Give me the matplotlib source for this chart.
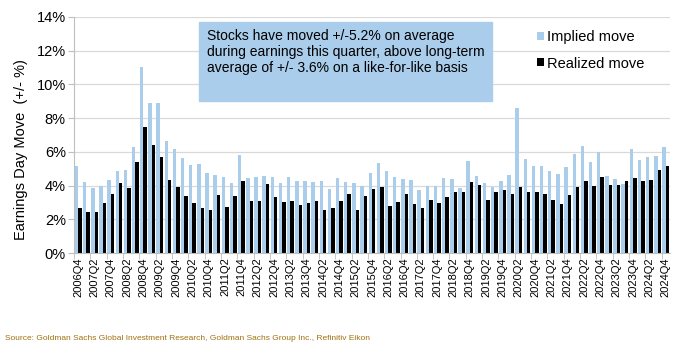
import numpy as np
import matplotlib
matplotlib.use("Agg")
from matplotlib import pyplot as plt
from matplotlib.ticker import FuncFormatter

plt.rcParams['font.family'] = ['Liberation Sans', 'DejaVu Sans']

# quarters 2006Q4 .. 2024Q4
quarters = ['2006Q4'] + ['%dQ%d' % (y, q) for y in range(2007, 2025) for q in range(1, 5)]

implied = [5.17, 4.22, 3.83, 4.00, 4.32, 4.87, 4.93, 6.31, 11.05, 8.88,
           8.88, 6.65, 6.15, 5.64, 5.20, 5.27, 4.75, 4.63, 4.50, 4.16,
           5.82, 4.44, 4.50, 4.58, 4.50, 4.14, 4.50, 4.28, 4.26, 4.22,
           4.28, 3.81, 4.44, 4.22, 4.14, 4.00, 4.75, 5.36, 4.87, 4.50,
           4.42, 4.34, 3.75, 4.00, 4.00, 4.48, 4.42, 3.87, 5.48, 4.54,
           4.14, 3.92, 4.26, 4.65, 8.58, 5.58, 5.15, 5.15, 4.87, 4.71,
           5.11, 5.88, 6.37, 5.42, 6.02, 4.54, 4.42, 4.08, 6.15, 5.52,
           5.70, 5.76, 6.31]

realized = [2.66, 2.43, 2.43, 2.98, 3.49, 4.16, 3.83, 5.38, 7.50, 6.43,
            5.70, 4.32, 3.89, 3.37, 2.98, 2.70, 2.54, 3.43, 2.76, 3.37,
            4.28, 3.10, 3.10, 4.08, 3.33, 3.04, 3.10, 2.86, 2.96, 3.10,
            2.54, 2.70, 3.10, 3.49, 2.54, 3.37, 3.77, 3.89, 2.82, 3.04,
            3.49, 2.92, 2.70, 3.16, 2.98, 3.33, 3.61, 3.61, 4.22, 4.02,
            3.16, 3.65, 3.71, 3.49, 3.94, 3.61, 3.65, 3.49, 3.16, 2.92,
            3.43, 3.94, 4.26, 4.00, 4.50, 4.04, 4.04, 4.26, 4.44, 4.28,
            4.36, 4.93, 5.17]

note = ('Stocks have moved +/-5.2% on average\n'
        'during earnings this quarter, above long-term\n'
        'average of +/- 3.6% on a like-for-like basis')
source = ('Source: Goldman Sachs Global Investment Research, '
          'Goldman Sachs Group Inc., Refinitiv Eikon')

blue = '#A9CDEB'
grey = '#BFBFBF'

fig = plt.figure(figsize=(6.8, 3.6), dpi=100)
ax = fig.add_axes([0.109, 0.297, 0.876, 0.656])

x = np.arange(len(quarters))
w = 0.42
ax.bar(x - w/2, implied, width=w, color=blue, label='Implied move', zorder=2)
ax.bar(x + w/2, realized, width=w, color='black', label='Realized move', zorder=2)

ax.set_xlim(-0.5, len(quarters) - 0.5)
ax.set_ylim(0, 14)
ax.set_yticks(np.arange(0, 15, 2))
ax.yaxis.set_major_formatter(FuncFormatter(lambda v, p: '%d%%' % v))
ax.grid(axis='y', color='#D9D9D9', linewidth=0.9, zorder=0)

ax.set_xticks(x[::2])
ax.set_xticklabels(quarters[::2], rotation=90, fontsize=8)
ax.set_xticks(np.arange(-0.5, len(quarters), 2), minor=True)
ax.tick_params(axis='x', which='major', length=0, pad=3)
ax.tick_params(axis='x', which='minor', length=4, color=grey)
ax.tick_params(axis='y', labelsize=10.5, length=4, color=grey, pad=2)

for s in ['top', 'right']:
    ax.spines[s].set_visible(False)
for s in ['left', 'bottom']:
    ax.spines[s].set_color(grey)

ax.set_ylabel('Earnings Day Move  (+/- %)', fontsize=10.5)
ax.yaxis.set_label_coords(-0.077, 0.44)

# annotation box
fig.patches.append(plt.Rectangle((199/680, 1 - 101/360), 293/680, 79/360,
                                 transform=fig.transFigure, color=blue, zorder=3))
fig.text(207/680, 1 - 29/360, note, fontsize=10, va='top', ha='left',
         linespacing=1.2, zorder=4)

leg = ax.legend(loc='upper left', frameon=False, fontsize=10.5,
                handlelength=0.45, handleheight=0.45,
                handletextpad=0.2, labelspacing=0.85)
leg.set_bbox_to_anchor((524/680, 1 - 17/360), transform=fig.transFigure)

fig.text(5/680, 1 - 338/360, source, fontsize=6, color='#A0700F', va='center')

fig.savefig('out.png', dpi=100)
